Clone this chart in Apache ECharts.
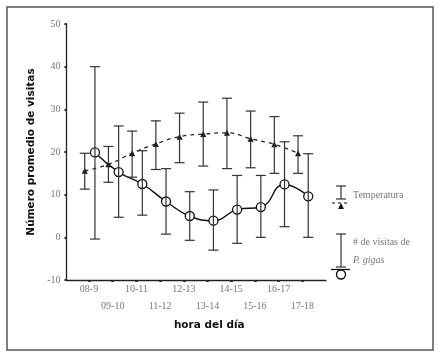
<!DOCTYPE html>
<html>
<head>
<meta charset="utf-8">
<script src="https://cdn.jsdelivr.net/npm/echarts@6/dist/echarts.min.js"></script>
<style>html,body{margin:0;padding:0;background:#fff}#c{width:441px;height:355px}</style>
</head>
<body>
<div id="c"></div>
<script>
// ---- data ----
var hourLabels = ['08-9','09-10','10-11','11-12','12-13','13-14','14-15','15-16','16-17','17-18'];
var tempMean = [15.6, 17.1, 19.7, 21.9, 23.6, 24.2, 24.5, 23.1, 21.8, 19.7];
var tempLow  = [11.3, 12.9, 14.1, 15.9, 17.5, 16.7, 16.1, 16.3, 15.0, 15.0];
var tempHigh = [19.7, 21.3, 24.9, 27.3, 29.1, 31.7, 32.6, 29.6, 28.3, 23.8];
var visitMean = [19.9, 15.3, 12.5, 8.4, 5.0, 3.9, 6.5, 7.1, 12.4, 9.6];
var visitLow  = [-0.4, 4.7, 5.2, 0.75, -0.7, -3.0, -1.4, 0.0, 2.5, 0.0];
var visitHigh = [40.0, 26.1, 20.3, 16.1, 10.7, 11.1, 14.5, 14.5, 22.4, 19.6];
var yTicks = [-10, 0, 10, 20, 30, 40, 50];

var TEMP_OFF = -0.18, VISIT_OFF = 0.25;
var tickIdx = hourLabels.map(function(_, i){ return i; });

function pts(vals, off){ return vals.map(function(v, i){ return [i + off, v]; }); }
function errs(lo, hi, off){ return lo.map(function(v, i){ return [i + off, v, hi[i]]; }); }

function errRender(params, api){
  var x = api.value(0);
  var p1 = api.coord([x, api.value(1)]);
  var p2 = api.coord([x, api.value(2)]);
  var w = 5;
  var st = {stroke: '#333', lineWidth: 1.2};
  return {type: 'group', children: [
    {type: 'line', shape: {x1: p1[0], y1: p1[1], x2: p2[0], y2: p2[1]}, style: st},
    {type: 'line', shape: {x1: p1[0]-w, y1: p1[1], x2: p1[0]+w, y2: p1[1]}, style: st},
    {type: 'line', shape: {x1: p2[0]-w, y1: p2[1], x2: p2[0]+w, y2: p2[1]}, style: st}
  ]};
}

var serif = 'Liberation Serif';
var chart = echarts.init(document.getElementById('c'), null, {renderer: 'canvas'});
chart.setOption({
  animation: false,
  backgroundColor: '#fff',
  grid: {left: 66.5, right: 115, top: 24, bottom: 75, containLabel: false},
  xAxis: {
    type: 'value', min: -0.95, max: 10,
    splitLine: {show: false},
    axisLine: {onZero: false, lineStyle: {color: '#222', width: 1.3}},
    axisTick: {customValues: tickIdx, length: 2, lineStyle: {color: '#222', width: 2.5}},
    axisLabel: {
      customValues: tickIdx, margin: 1, lineHeight: 17,
      fontFamily: serif, fontSize: 10, color: '#777',
      formatter: function(v){ var i = Math.round(v); return (i % 2 ? '\n' : '') + hourLabels[i]; }
    },
    name: 'hora del día', nameLocation: 'middle', nameGap: 36,
    nameTextStyle: {fontFamily: 'DejaVu Sans', fontWeight: 'bold', fontSize: 10.5, color: '#111', padding: [0, 0, 0, 26]}
  },
  yAxis: {
    type: 'value', min: -10, max: 50, interval: 10,
    splitLine: {show: false},
    axisLine: {show: true, onZero: false, lineStyle: {color: '#222', width: 1.3}},
    axisTick: {show: true, length: 2, lineStyle: {color: '#222', width: 2}},
    axisLabel: {customValues: yTicks, margin: 6, fontFamily: serif, fontSize: 10, color: '#777'},
    name: 'Número promedio de visitas', nameLocation: 'middle', nameGap: 29,
    nameTextStyle: {fontFamily: 'DejaVu Sans', fontWeight: 'bold', fontSize: 10.5, color: '#111'}
  },
  series: [
    {type: 'line', data: pts(tempMean, TEMP_OFF), smooth: 0.5, z: 2,
     symbol: 'triangle', symbolSize: 6, itemStyle: {color: '#111'},
     lineStyle: {color: '#222', width: 1.3, type: [4, 4]}},
    {type: 'line', data: pts(visitMean, VISIT_OFF), smooth: 0.5, z: 2,
     symbol: 'circle', symbolSize: 9, itemStyle: {color: '#fff', borderColor: '#111', borderWidth: 1.3},
     lineStyle: {color: '#111', width: 1.4}},
    {type: 'custom', data: errs(tempLow, tempHigh, TEMP_OFF), renderItem: errRender, z: 3,
     encode: {x: 0, y: [1, 2]}},
    {type: 'custom', data: errs(visitLow, visitHigh, VISIT_OFF), renderItem: errRender, z: 3,
     encode: {x: 0, y: [1, 2]}}
  ],
  graphic: [
    {type: 'rect', shape: {x: 7, y: 7, width: 426, height: 343}, style: {fill: 'none', stroke: '#555', lineWidth: 1.5}, z: 10},
    // legend: Temperatura
    {type: 'line', shape: {x1: 341, y1: 186, x2: 341, y2: 199}, style: {stroke: '#333', lineWidth: 1.2}},
    {type: 'line', shape: {x1: 336, y1: 186, x2: 346, y2: 186}, style: {stroke: '#333', lineWidth: 1.2}},
    {type: 'line', shape: {x1: 336, y1: 199, x2: 346, y2: 199}, style: {stroke: '#333', lineWidth: 1.2}},
    {type: 'line', shape: {x1: 332, y1: 203, x2: 349, y2: 203}, style: {stroke: '#333', lineWidth: 1.2, lineDash: [3, 3]}},
    {type: 'polygon', shape: {points: [[341, 203], [338, 209], [344, 209]]}, style: {fill: '#111'}},
    {type: 'text', x: 353, y: 195, style: {text: 'Temperatura', font: '10px "Liberation Serif"', fill: '#777', verticalAlign: 'middle'}},
    // legend: visits
    {type: 'line', shape: {x1: 341, y1: 234, x2: 341, y2: 267}, style: {stroke: '#333', lineWidth: 1.2}},
    {type: 'line', shape: {x1: 336, y1: 234, x2: 346, y2: 234}, style: {stroke: '#333', lineWidth: 1.2}},
    {type: 'line', shape: {x1: 336, y1: 267, x2: 346, y2: 267}, style: {stroke: '#333', lineWidth: 1.2}},
    {type: 'line', shape: {x1: 331, y1: 269.5, x2: 350, y2: 269.5}, style: {stroke: '#111', lineWidth: 1.3}},
    {type: 'circle', shape: {cx: 341, cy: 274.5, r: 4.5}, style: {fill: '#fff', stroke: '#111', lineWidth: 1.4}},
    {type: 'text', x: 353, y: 242, style: {text: '# de visitas de', font: '10px "Liberation Serif"', fill: '#777', verticalAlign: 'middle'}},
    {type: 'text', x: 353, y: 260, style: {text: 'P. gigas', font: 'italic 10px "Liberation Serif"', fill: '#777', verticalAlign: 'middle'}}
  ]
});
</script>
</body>
</html>
